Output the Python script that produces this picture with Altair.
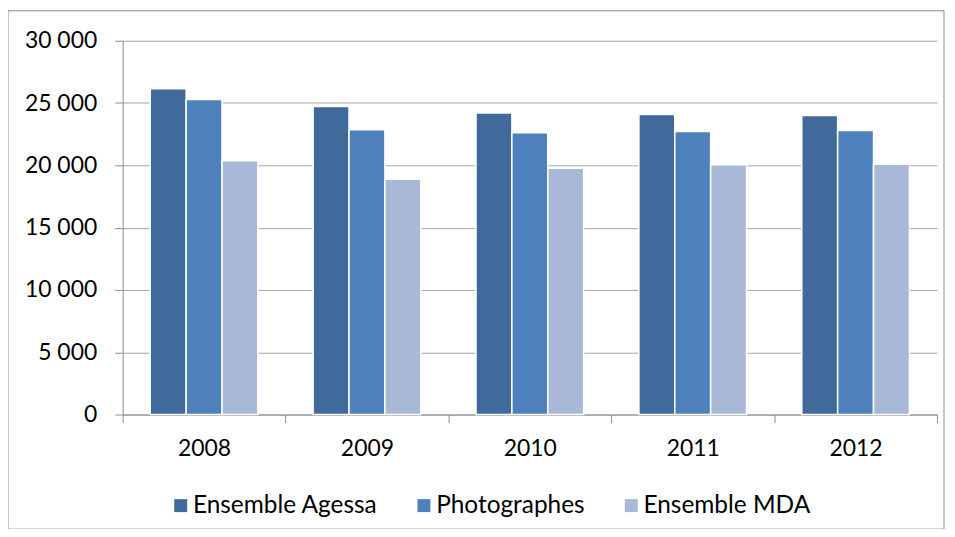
import altair as alt
import pandas as pd

years = ["2008", "2009", "2010", "2011", "2012"]
series = ["Ensemble Agessa", "Photographes", "Ensemble MDA"]
agessa = [26150, 24720, 24190, 24080, 24000]
photographes = [25280, 22850, 22610, 22720, 22800]
mda = [20370, 18880, 19760, 20050, 20080]
colors = ["#406A9B", "#4E80BC", "#A9B8D6"]

rows = []
for i, y in enumerate(years):
    for s, vals in zip(series, [agessa, photographes, mda]):
        rows.append({"year": y, "series": s, "value": vals[i]})
df = pd.DataFrame(rows)

W, H = 817, 375
FONT = "Lato"
FS = 23
LFS = 24.5

bars = alt.Chart(df).mark_bar(stroke="white", strokeWidth=1.5).encode(
    x=alt.X("year:N", sort=years, title=None,
            scale=alt.Scale(paddingInner=0, paddingOuter=0),
            axis=alt.Axis(labelAngle=0, tickBand="extent", tickSize=8,
                          labelPadding=15, domainColor="#8c8c8c",
                          tickColor="#8c8c8c", labelFontSize=FS,
                          labelColor="#000000", labelFont=FONT)),
    xOffset=alt.XOffset("series:N", sort=series,
                        scale=alt.Scale(paddingInner=0, paddingOuter=0.77)),
    y=alt.Y("value:Q", title=None,
            scale=alt.Scale(domain=[0, 30000]),
            axis=alt.Axis(values=[0, 5000, 10000, 15000, 20000, 25000, 30000],
                          labelExpr="datum.value >= 1000 ? floor(datum.value/1000) + ' 000' : '' + datum.value",
                          tickSize=8, labelPadding=18, gridColor="#a6a6a6",
                          domainColor="#8c8c8c", tickColor="#8c8c8c",
                          labelFontSize=FS, labelColor="#000000", labelFont=FONT)),
    color=alt.Color("series:N", sort=series,
                    scale=alt.Scale(domain=series, range=colors),
                    legend=alt.Legend(title=None, orient="none", direction="horizontal",
                                      legendX=46, legendY=454,
                                      symbolType="square", symbolSize=169,
                                      symbolStrokeWidth=0, columnPadding=34,
                                      labelOffset=0,
                                      labelFontSize=LFS, labelFont=FONT,
                                      labelColor="#000000", labelLimit=300)),
)

border = alt.Chart(pd.DataFrame({"a": [0]})).mark_rect(
    fill=None, stroke="#8c8c8c", strokeWidth=1
).encode(
    x=alt.value(-115), x2=alt.value(W + 7),
    y=alt.value(-30), y2=alt.value(H + 115),
)

chart = alt.layer(border, bars).properties(
    width=W, height=H,
    autosize=alt.AutoSizeParams(type="none"),
    padding={"left": 115, "top": 32, "right": 10, "bottom": 114},
).configure_view(stroke=None).configure_axis(grid=False).configure_axisY(grid=True)

chart.save("out.html", embed_options={"renderer": "svg", "actions": False})
